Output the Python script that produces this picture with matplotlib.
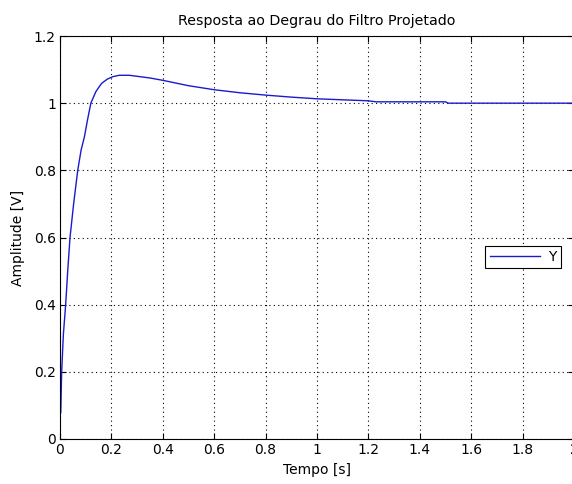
import matplotlib
matplotlib.use("Agg")
import matplotlib.pyplot as plt
from matplotlib.ticker import FuncFormatter

t = [0.0, 0.003, 0.0065, 0.013, 0.022, 0.030, 0.039, 0.053, 0.069, 0.082, 0.095, 0.107,
     0.12, 0.14, 0.162, 0.185, 0.206, 0.23, 0.27, 0.30, 0.35, 0.40, 0.45, 0.50, 0.55,
     0.60, 0.70, 0.80, 0.90, 1.00, 1.10, 1.20, 1.23, 1.50, 1.51, 2.0]
y = [0.07, 0.08, 0.20, 0.31, 0.40, 0.50, 0.60, 0.70, 0.80, 0.86, 0.90, 0.95,
     1.00, 1.035, 1.059, 1.072, 1.079, 1.083, 1.083, 1.080, 1.075, 1.068, 1.060, 1.052, 1.046,
     1.040, 1.031, 1.024, 1.018, 1.013, 1.010, 1.007, 1.004, 1.004, 1.0, 1.0]

xticks = [0, 0.2, 0.4, 0.6, 0.8, 1.0, 1.2, 1.4, 1.6, 1.8, 2.0]
yticks = [0, 0.2, 0.4, 0.6, 0.8, 1.0, 1.2]

plt.rcParams['font.family'] = ['DejaVu Sans']

W, H = 572, 484
fig = plt.figure(figsize=(W / 100, H / 100), dpi=100)
ax = fig.add_axes([60 / W, 1 - 439 / H, (574 - 60) / W, (439 - 36) / H])

ax.plot(t, y, color='#1a1ad0', lw=1.0, label='Y')
ax.set_xlim(0, 2)
ax.set_ylim(0, 1.2)
ax.set_xticks(xticks)
ax.set_yticks(yticks)
fmt = FuncFormatter(lambda v, p: ('%g' % round(v, 3)))
ax.xaxis.set_major_formatter(fmt)
ax.yaxis.set_major_formatter(fmt)
ax.grid(True, color='black', linestyle=(0, (1, 3)), linewidth=0.8)
ax.tick_params(direction='in', length=4, width=0.8, top=True, right=True,
               labelsize=10, pad=3, colors='black')
for s in ax.spines.values():
    s.set_linewidth(0.8)
    s.set_color('black')

ax.set_title('Resposta ao Degrau do Filtro Projetado', fontsize=10.3, pad=8)
ax.set_xlabel('Tempo [s]', fontsize=10, labelpad=4)
ax.set_ylabel('Amplitude [V]', fontsize=10, labelpad=6)

leg = ax.legend(loc='center', bbox_to_anchor=(523 / W, 1 - 257 / H),
                bbox_transform=fig.transFigure, fontsize=10, frameon=True,
                fancybox=False, framealpha=1, edgecolor='black', borderpad=0.3,
                handlelength=3.6, handletextpad=0.6)
leg.get_frame().set_linewidth(0.8)

fig.savefig('out.png', dpi=100)
